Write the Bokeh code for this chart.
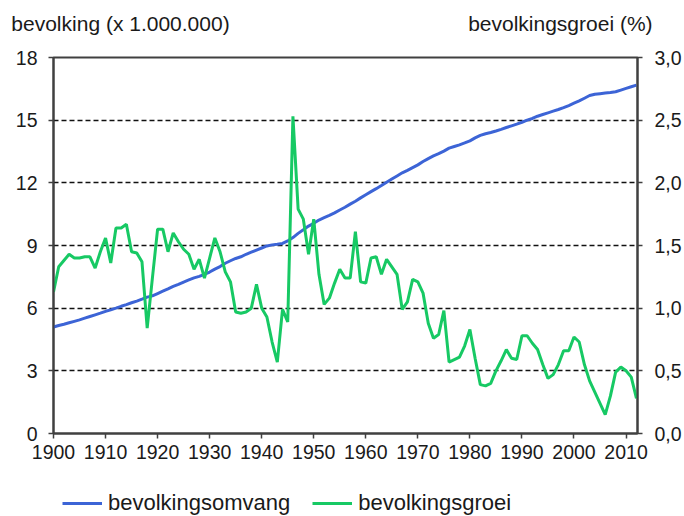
from bokeh.plotting import figure
from bokeh.layouts import column
from bokeh.models import Range1d, LinearAxis, FixedTicker, Legend, LegendItem
from bokeh.embed import file_html
from bokeh.resources import INLINE

# ---------------- data ----------------
years = list(range(1900, 2013))

# population (x 1.000.000), left axis
population = [
    5.10, 5.17, 5.23, 5.30, 5.37, 5.44, 5.52, 5.60, 5.68, 5.76,   # 1900-1909
    5.85, 5.92, 6.00, 6.09, 6.17, 6.26, 6.34, 6.43, 6.53, 6.59,   # 1910-1919
    6.70, 6.81, 6.92, 7.04, 7.14, 7.25, 7.35, 7.45, 7.52, 7.62,   # 1920-1929
    7.73, 7.87, 7.99, 8.15, 8.27, 8.38, 8.46, 8.58, 8.68, 8.78,   # 1930-1939
    8.88, 8.98, 9.03, 9.06, 9.10, 9.22, 9.38, 9.58, 9.75, 9.93,   # 1940-1949
    10.06, 10.22, 10.33, 10.44, 10.56, 10.70, 10.83, 10.98, 11.12, 11.28,  # 1950-1959
    11.43, 11.58, 11.72, 11.87, 12.03, 12.18, 12.33, 12.48, 12.60, 12.73,  # 1960-1969
    12.86, 13.02, 13.16, 13.29, 13.40, 13.52, 13.66, 13.74, 13.82, 13.91,  # 1970-1979
    14.01, 14.15, 14.27, 14.35, 14.41, 14.48, 14.56, 14.65, 14.73, 14.81,  # 1980-1989
    14.90, 15.00, 15.08, 15.19, 15.27, 15.35, 15.43, 15.51, 15.60, 15.70,  # 1990-1999
    15.81, 15.92, 16.05, 16.18, 16.24, 16.27, 16.30, 16.32, 16.36, 16.44,  # 2000-2009
    16.52, 16.60, 16.68,                                                 # 2010-2012
]

# population growth (%), right axis
growth = [
    1.13, 1.33, 1.38, 1.43, 1.40, 1.40, 1.41, 1.41, 1.32, 1.45,   # 1900-1909
    1.56, 1.36, 1.64, 1.64, 1.67, 1.45, 1.44, 1.37, 0.84, 1.24,   # 1910-1919
    1.63, 1.63, 1.45, 1.60, 1.53, 1.47, 1.43, 1.31, 1.39, 1.24,   # 1920-1929
    1.40, 1.56, 1.45, 1.29, 1.21, 0.97, 0.96, 0.97, 1.00, 1.19,   # 1930-1939
    1.00, 0.93, 0.73, 0.57, 0.99, 0.89, 2.53, 1.79, 1.71, 1.43,   # 1940-1949
    1.71, 1.27, 1.03, 1.08, 1.20, 1.31, 1.24, 1.24, 1.61, 1.21,   # 1950-1959
    1.20, 1.40, 1.41, 1.27, 1.39, 1.33, 1.27, 0.99, 1.05, 1.23,   # 1960-1969
    1.21, 1.12, 0.88, 0.76, 0.79, 0.98, 0.57, 0.59, 0.61, 0.70,   # 1970-1979
    0.83, 0.60, 0.39, 0.38, 0.40, 0.50, 0.58, 0.67, 0.60, 0.59,   # 1980-1989
    0.78, 0.78, 0.72, 0.67, 0.55, 0.44, 0.47, 0.55, 0.66, 0.66,   # 1990-1999
    0.77, 0.73, 0.55, 0.42, 0.33, 0.24, 0.15, 0.30, 0.49, 0.53,   # 2000-2009
    0.50, 0.45, 0.28,                                             # 2010-2012
]

x_ticks = [1900, 1910, 1920, 1930, 1940, 1950, 1960, 1970, 1980, 1990, 2000, 2010]
left_ticks = [0, 3, 6, 9, 12, 15, 18]
grid_ticks = [3, 6, 9, 12, 15]
right_ticks = [0.0, 0.5, 1.0, 1.5, 2.0, 2.5, 3.0]
right_tick_labels = ["0,0", "0,5", "1,0", "1,5", "2,0", "2,5", "3,0"]

axis_titles = ["bevolking  (x 1.000.000)", "bevolkingsgroei  (%)"]
series_names = ["bevolkingsomvang", "bevolkingsgroei"]

# ---------------- style ----------------
FONT = "Liberation Sans"
BLUE = "#3C64D6"
GREEN = "#17C964"
AXIS = "#404040"
TEXT = "#1a1a1a"

p = figure(width=684, height=470, output_backend="svg", toolbar_location=None,
           x_range=Range1d(1900, 2012.2), y_range=Range1d(0, 18),
           min_border_left=53, min_border_right=45, min_border_top=57,
           min_border_bottom=37, background_fill_color="white",
           border_fill_color="white")
p.extra_y_ranges = {"growth": Range1d(0, 3)}

p.outline_line_color = AXIS
p.outline_line_width = 2

# grid
p.xgrid.visible = False
p.ygrid.ticker = FixedTicker(ticks=grid_ticks)
p.ygrid.grid_line_color = "#111111"
p.ygrid.grid_line_width = 1.4
p.ygrid.grid_line_dash = "5 3"

# right axis
raxis = LinearAxis(y_range_name="growth")
raxis.ticker = FixedTicker(ticks=right_ticks)
raxis.major_label_overrides = dict(zip(right_ticks, right_tick_labels))
p.add_layout(raxis, "right")

p.xaxis.ticker = FixedTicker(ticks=x_ticks)
p.yaxis[0].ticker = FixedTicker(ticks=left_ticks)

for ax in p.xaxis + p.yaxis:
    ax.axis_line_color = AXIS
    ax.axis_line_width = 2
    ax.major_tick_line_color = AXIS
    ax.major_tick_line_width = 1.5
    ax.major_tick_in = 0
    ax.major_tick_out = 5
    ax.minor_tick_line_color = None
    ax.major_label_text_font = FONT
    ax.major_label_text_font_size = "19.5px"
    ax.major_label_text_color = TEXT

p.xaxis.major_label_standoff = 6
p.yaxis[0].major_label_standoff = 11
raxis.major_label_standoff = 12

# axis titles above the plot: a bare axis whose two labels are the titles
title_pos = [1913.43, 1997.94]
taxis = LinearAxis(ticker=FixedTicker(ticks=title_pos),
                   major_label_overrides=dict(zip(title_pos, axis_titles)),
                   axis_line_color=None, major_tick_line_color=None,
                   minor_tick_line_color=None, major_label_standoff=17,
                   major_label_text_font=FONT, major_label_text_font_size="21px",
                   major_label_text_color=TEXT)
p.add_layout(taxis, "above")

# lines
p.line(years, population, line_color=BLUE, line_width=3)
p.line(years, growth, line_color=GREEN, line_width=3, y_range_name="growth")

# legend strip below the chart (its own renderers lie outside its view range,
# they only supply the legend's line samples)
lf = figure(width=684, height=46, output_backend="svg", toolbar_location=None,
            x_range=Range1d(0, 1), y_range=Range1d(0, 1),
            x_axis_type=None, y_axis_type=None, min_border=0,
            outline_line_color=None, background_fill_color="white",
            border_fill_color="white")
lf.xgrid.visible = False
lf.ygrid.visible = False
k_pop = lf.line(years, population, line_color=BLUE, line_width=3)
k_gro = lf.line(years, growth, line_color=GREEN, line_width=3)
legend = Legend(items=[LegendItem(label=series_names[0], renderers=[k_pop]),
                       LegendItem(label=series_names[1], renderers=[k_gro])],
                orientation="horizontal", location=(9, 0),
                label_text_font=FONT, label_text_font_size="22px",
                label_text_color=TEXT, glyph_width=40, label_standoff=6,
                spacing=22, padding=0, margin=0,
                border_line_alpha=0, background_fill_alpha=0)
lf.add_layout(legend, "center")

layout = column(p, lf, spacing=0)
open("out.html", "w").write(file_html(layout, INLINE))
